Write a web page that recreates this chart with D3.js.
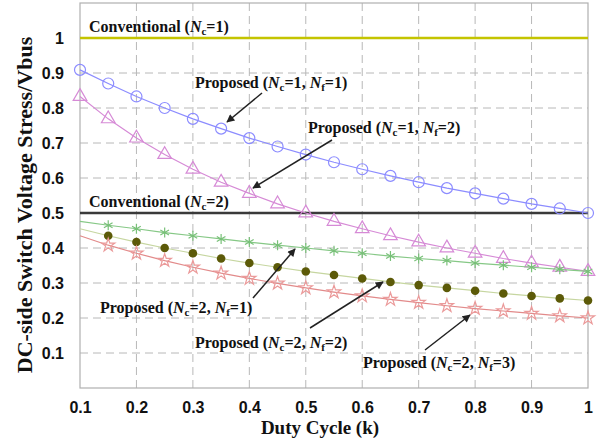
<!DOCTYPE html>
<html>
<head>
<meta charset="utf-8">
<script src="https://cdn.jsdelivr.net/npm/d3@7"></script>
<style>
  html, body { margin: 0; padding: 0; background: #fff; }
  svg { display: block; }
</style>
</head>
<body>
<svg id="chart" width="608" height="443"></svg>
<script>
// Duty cycle samples and per-topology switch voltage stress (normalised to Vbus)
const dutyCycle = [0.10, 0.15, 0.20, 0.25, 0.30, 0.35, 0.40, 0.45, 0.50, 0.55,
                   0.60, 0.65, 0.70, 0.75, 0.80, 0.85, 0.90, 0.95, 1.00];
const stressNc1Nf1 = [0.909, 0.870, 0.833, 0.800, 0.769, 0.741, 0.714, 0.690, 0.667, 0.645,
                      0.625, 0.606, 0.588, 0.571, 0.556, 0.541, 0.526, 0.513, 0.500];
const stressNc1Nf2 = [0.833, 0.769, 0.714, 0.667, 0.625, 0.588, 0.556, 0.526, 0.500, 0.476,
                      0.455, 0.435, 0.417, 0.400, 0.385, 0.370, 0.357, 0.345, 0.333];
const stressNc2Nf1 = [0.476, 0.465, 0.455, 0.444, 0.435, 0.426, 0.417, 0.408, 0.400, 0.392,
                      0.385, 0.377, 0.370, 0.364, 0.357, 0.351, 0.345, 0.339, 0.333];
const stressNc2Nf2 = [0.455, 0.435, 0.417, 0.400, 0.385, 0.370, 0.357, 0.345, 0.333, 0.323,
                      0.313, 0.303, 0.294, 0.286, 0.278, 0.270, 0.263, 0.256, 0.250];
const stressNc2Nf3 = [0.435, 0.408, 0.385, 0.364, 0.345, 0.328, 0.313, 0.299, 0.286, 0.274,
                      0.263, 0.253, 0.244, 0.235, 0.227, 0.220, 0.213, 0.206, 0.200];
const conventionalNc1 = 1.0;
const conventionalNc2 = 0.5;

const xTicks = [0.1, 0.2, 0.3, 0.4, 0.5, 0.6, 0.7, 0.8, 0.9, 1.0];
const yTicks = [0.1, 0.2, 0.3, 0.4, 0.5, 0.6, 0.7, 0.8, 0.9, 1.0];

const svg = d3.select("#chart");
const plot = { left: 80, right: 588, top: 3, bottom: 388 };

const x = d3.scaleLinear().domain([0.1, 1.0]).range([plot.left, plot.right]);
const y = d3.scaleLinear().domain([0, 1.1]).range([plot.bottom, plot.top]);

// Dashed grid
const grid = svg.append("g").attr("stroke", "#b8b8b8").attr("stroke-width", 1)
  .attr("stroke-dasharray", "8,5");
grid.selectAll(".gx").data(xTicks.slice(1, -1)).join("line")
  .attr("x1", d => x(d)).attr("x2", d => x(d))
  .attr("y1", plot.top).attr("y2", plot.bottom);
grid.selectAll(".gy").data(yTicks.slice(0, -1)).join("line")
  .attr("x1", plot.left).attr("x2", plot.right)
  .attr("y1", d => y(d)).attr("y2", d => y(d));

// Frame
svg.append("rect")
  .attr("x", plot.left).attr("y", plot.top)
  .attr("width", plot.right - plot.left).attr("height", plot.bottom - plot.top)
  .attr("fill", "none").attr("stroke", "#b0b0b0").attr("stroke-width", 1.2);

// Axes (labels only; frame draws the lines)
const xAxis = svg.append("g").attr("transform", `translate(0,${plot.bottom})`)
  .call(d3.axisBottom(x).tickValues(xTicks).tickSize(0).tickPadding(14)
    .tickFormat(d => d3.format("~g")(d)));
const yAxis = svg.append("g").attr("transform", `translate(${plot.left},0)`)
  .call(d3.axisLeft(y).tickValues(yTicks).tickSize(0).tickPadding(16)
    .tickFormat(d => d3.format("~g")(d)));
[xAxis, yAxis].forEach(a => {
  a.select(".domain").remove();
  a.selectAll("text")
    .attr("font-family", "Liberation Sans, Arial, sans-serif")
    .attr("font-weight", "bold").attr("font-size", 16).attr("fill", "#111");
});

// Axis titles
svg.append("text")
  .attr("x", 320).attr("y", 434).attr("text-anchor", "middle")
  .attr("font-family", "Liberation Serif, Times New Roman, serif")
  .attr("font-weight", "bold").attr("font-size", 19).attr("fill", "#111")
  .text("Duty Cycle (k)");
svg.append("text")
  .attr("transform", "translate(32,205) rotate(-90)").attr("text-anchor", "middle")
  .attr("font-family", "Liberation Serif, Times New Roman, serif")
  .attr("font-weight", "bold").attr("font-size", 22).attr("fill", "#111")
  .text("DC-side Switch Voltage Stress/Vbus");

// Conventional references
svg.append("line")
  .attr("x1", x(0.1)).attr("x2", x(1.0))
  .attr("y1", y(conventionalNc1)).attr("y2", y(conventionalNc1))
  .attr("stroke", "#c4c400").attr("stroke-width", 2.5);
svg.append("line")
  .attr("x1", x(0.1)).attr("x2", x(1.0))
  .attr("y1", y(conventionalNc2)).attr("y2", y(conventionalNc2))
  .attr("stroke", "#3a3a3a").attr("stroke-width", 2.5);

// Proposed curves
const line = d3.line().x((d, i) => x(dutyCycle[i])).y(d => y(d));
const series = [
  { values: stressNc1Nf1, line: "#8c8cff", marker: "circle", color: "#8c8cff", from: 0 },
  { values: stressNc1Nf2, line: "#d68ad6", marker: "triangle", color: "#d68ad6", from: 0 },
  { values: stressNc2Nf1, line: "#86c886", marker: "asterisk", color: "#78c078", from: 1 },
  { values: stressNc2Nf2, line: "#c6d6a0", marker: "dot", color: "#5c5a08", from: 1 },
  { values: stressNc2Nf3, line: "#e28a8a", marker: "star", color: "#eb9a9a", from: 1 }
];

series.forEach(s => {
  svg.append("path").datum(s.values)
    .attr("d", line).attr("fill", "none")
    .attr("stroke", s.line).attr("stroke-width", 1.2);

  const pts = s.values.map((v, i) => ({ k: dutyCycle[i], v })).slice(s.from);
  const g = svg.append("g");
  const pos = d => `translate(${x(d.k)},${y(d.v)})`;
  if (s.marker === "circle") {
    g.selectAll("circle").data(pts).join("circle")
      .attr("cx", d => x(d.k)).attr("cy", d => y(d.v)).attr("r", 5.5)
      .attr("fill", "none").attr("stroke", s.color).attr("stroke-width", 1.2);
  } else if (s.marker === "dot") {
    g.selectAll("circle").data(pts).join("circle")
      .attr("cx", d => x(d.k)).attr("cy", d => y(d.v)).attr("r", 4.3)
      .attr("fill", s.color);
  } else {
    const type = { triangle: d3.symbolTriangle, asterisk: d3.symbolAsterisk, star: d3.symbolStar }[s.marker];
    const size = { triangle: 80, asterisk: 70, star: 55 }[s.marker];
    g.selectAll("path").data(pts).join("path")
      .attr("transform", pos)
      .attr("d", d3.symbol(type, size)())
      .attr("fill", "none").attr("stroke", s.color).attr("stroke-width", 1.2);
  }
});

// Annotations
function label(xp, yp, parts) {
  const t = svg.append("text").attr("x", xp).attr("y", yp)
    .attr("font-family", "Liberation Serif, Times New Roman, serif")
    .attr("font-weight", "bold").attr("font-size", 16).attr("fill", "#111");
  parts.forEach(p => {
    const ts = t.append("tspan").text(p.t);
    if (p.i) ts.attr("font-style", "italic");
    if (p.sub) ts.attr("font-size", 11).attr("dy", 3);
    if (p.up) ts.attr("dy", -3);
  });
}
const sub = (n, c) => [{ t: "N", i: true }, { t: c, sub: true }, { t: "=" + n, up: true }];

label(89, 32, [{ t: "Conventional (" }, ...sub(1, "c"), { t: ")" }]);
label(89, 207, [{ t: "Conventional (" }, ...sub(2, "c"), { t: ")" }]);
label(195, 88, [{ t: "Proposed (" }, ...sub(1, "c"), { t: ", " }, ...sub(1, "f"), { t: ")" }]);
label(308, 133, [{ t: "Proposed (" }, ...sub(1, "c"), { t: ", " }, ...sub(2, "f"), { t: ")" }]);
label(100, 313, [{ t: "Proposed (" }, ...sub(2, "c"), { t: ", " }, ...sub(1, "f"), { t: ")" }]);
label(195, 348, [{ t: "Proposed (" }, ...sub(2, "c"), { t: ", " }, ...sub(2, "f"), { t: ")" }]);
label(363, 368, [{ t: "Proposed (" }, ...sub(2, "c"), { t: ", " }, ...sub(3, "f"), { t: ")" }]);

// Arrows
svg.append("defs").append("marker")
  .attr("id", "head").attr("viewBox", "0 0 10 10")
  .attr("refX", 9).attr("refY", 5)
  .attr("markerWidth", 10).attr("markerHeight", 8)
  .attr("markerUnits", "userSpaceOnUse").attr("orient", "auto")
  .append("path").attr("d", "M0,0 L10,5 L0,10 Z").attr("fill", "#222");

const arrows = [
  [262, 93, 227, 122],
  [332, 140, 253, 188],
  [253, 298, 295, 249],
  [310, 328, 383, 282],
  [425, 350, 470, 315]
];
svg.append("g").selectAll("line").data(arrows).join("line")
  .attr("x1", d => d[0]).attr("y1", d => d[1])
  .attr("x2", d => d[2]).attr("y2", d => d[3])
  .attr("stroke", "#222").attr("stroke-width", 1.5)
  .attr("marker-end", "url(#head)");
</script>
</body>
</html>
